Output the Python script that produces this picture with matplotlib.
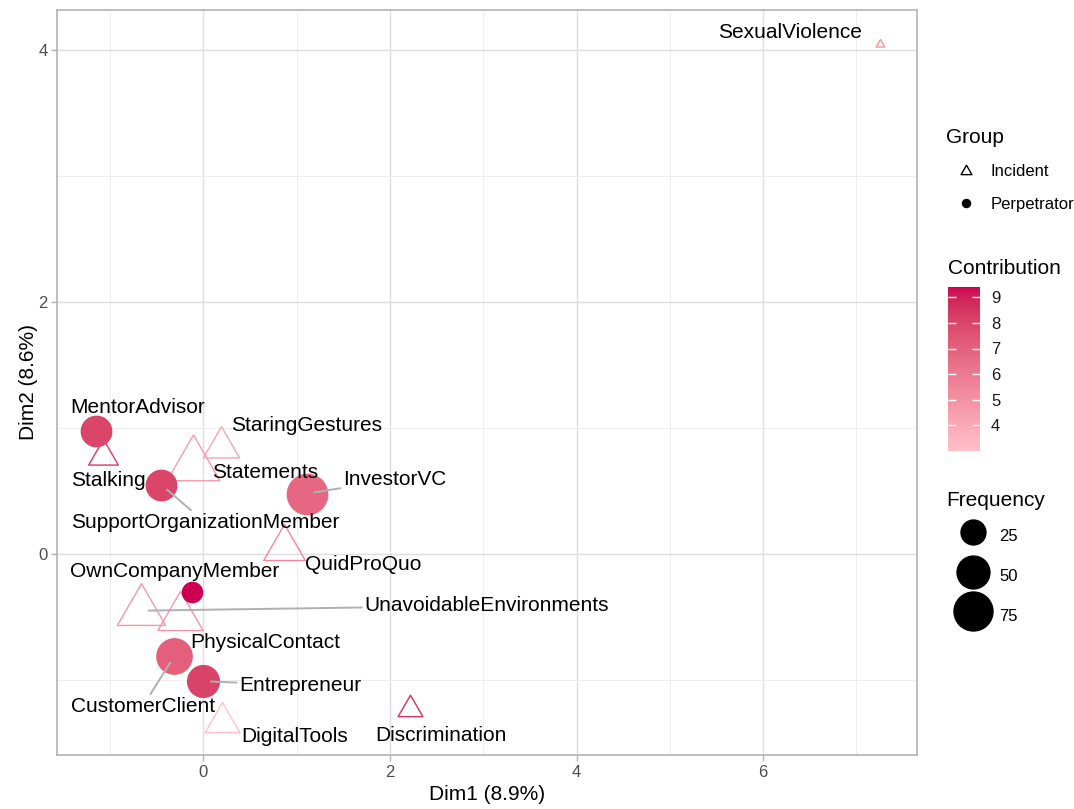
import numpy as np
import matplotlib
matplotlib.use("Agg")
import matplotlib.pyplot as plt
from matplotlib.path import Path
from matplotlib.colors import LinearSegmentedColormap, Normalize
from matplotlib.lines import Line2D

plt.rcParams['font.family'] = ['Liberation Sans', 'DejaVu Sans']

# ---------------- data ----------------
labels = ["SexualViolence", "MentorAdvisor", "Stalking", "Statements", "StaringGestures",
          "SupportOrganizationMember", "InvestorVC", "QuidProQuo", "OwnCompanyMember",
          "UnavoidableEnvironments", "PhysicalContact", "CustomerClient", "Entrepreneur",
          "DigitalTools", "Discrimination"]
groups = ["Incident", "Perpetrator", "Incident", "Incident", "Incident",
          "Perpetrator", "Perpetrator", "Incident", "Perpetrator",
          "Incident", "Incident", "Perpetrator", "Perpetrator",
          "Incident", "Incident"]
dim1 = [7.25, -1.15, -1.08, -0.11, 0.19, -0.45, 1.11, 0.87, -0.12, -0.67, -0.25, -0.31, 0.00, 0.20, 2.22]
dim2 = [4.05, 0.98, 0.78, 0.71, 0.85, 0.55, 0.48, 0.05, -0.30, -0.45, -0.50, -0.81, -1.01, -1.33, -1.23]
contrib = [5.0, 8.0, 8.3, 4.6, 4.2, 8.0, 6.8, 5.4, 9.4, 4.8, 4.8, 7.1, 8.1, 3.0, 8.6]
freq = [1, 46, 18, 76, 30, 46, 88, 43, 17, 61, 52, 65, 51, 27, 11]

x_label = "Dim1 (8.9%)"
y_label = "Dim2 (8.6%)"
x_ticks = [0, 2, 4, 6]
y_ticks = [0, 2, 4]
contrib_ticks = [4, 5, 6, 7, 8, 9]
freq_breaks = [25, 50, 75]

# ---------------- layout (label placement, repel-like) ----------------
label_pos = {
    "SexualViolence": (6.29, 4.14),
    "MentorAdvisor": (-0.70, 1.16),
    "StaringGestures": (1.11, 1.02),
    "Stalking": (-1.02, 0.58),
    "Statements": (0.66, 0.65),
    "InvestorVC": (2.05, 0.59),
    "SupportOrganizationMember": (0.02, 0.25),
    "QuidProQuo": (1.71, -0.08),
    "OwnCompanyMember": (-0.31, -0.14),
    "UnavoidableEnvironments": (3.04, -0.41),
    "PhysicalContact": (0.66, -0.70),
    "Entrepreneur": (1.04, -1.04),
    "CustomerClient": (-0.65, -1.21),
    "DigitalTools": (0.98, -1.45),
    "Discrimination": (2.55, -1.44),
}
with_segment = {"InvestorVC", "SupportOrganizationMember", "UnavoidableEnvironments",
                "CustomerClient", "Entrepreneur"}

# ---------------- colour scale (Lab interpolation like ggplot) ----------------
def _lin(c):
    c = np.asarray(c, float)
    return np.where(c <= 0.04045, c / 12.92, ((c + 0.055) / 1.055) ** 2.4)

def _delin(c):
    c = np.asarray(c, float)
    return np.where(c <= 0.0031308, 12.92 * c, 1.055 * np.power(np.clip(c, 0, None), 1 / 2.4) - 0.055)

M = np.array([[0.4124, 0.3576, 0.1805], [0.2126, 0.7152, 0.0722], [0.0193, 0.1192, 0.9505]])
WHITE = np.array([0.95047, 1.0, 1.08883])

def rgb2lab(rgb):
    xyz = M @ _lin(rgb) / WHITE
    f = np.where(xyz > 0.008856, np.cbrt(xyz), 7.787 * xyz + 16 / 116)
    return np.array([116 * f[1] - 16, 500 * (f[0] - f[1]), 200 * (f[1] - f[2])])

def lab2rgb(lab):
    L, a, b = lab
    fy = (L + 16) / 116
    fx = fy + a / 500
    fz = fy - b / 200
    f = np.array([fx, fy, fz])
    xyz = np.where(f ** 3 > 0.008856, f ** 3, (f - 16 / 116) / 7.787) * WHITE
    rgb = np.linalg.inv(M) @ xyz
    return np.clip(_delin(rgb), 0, 1)

def hex2rgb(h):
    h = h.lstrip('#')
    return np.array([int(h[i:i + 2], 16) / 255 for i in (0, 2, 4)])

low, high = rgb2lab(hex2rgb("#FFC0CB")), rgb2lab(hex2rgb("#CC0052"))
cols = [lab2rgb(low + (high - low) * t) for t in np.linspace(0, 1, 64)]
cmap = LinearSegmentedColormap.from_list("contrib", cols, N=256)
norm = Normalize(vmin=min(contrib), vmax=max(contrib))

# ---------------- size scale ----------------
fmin, fmax = min(freq), max(freq)
dmin_px, dmax_px = 6.4, 41.7

def diam_px(f):
    return dmin_px + (dmax_px - dmin_px) * np.sqrt((np.asarray(f, float) - fmin) / (fmax - fmin))

PX2PT = 0.72
tri = Path([(0, 1), (-0.8660254, -0.5), (0.8660254, -0.5), (0, 1)],
           [Path.MOVETO, Path.LINETO, Path.LINETO, Path.CLOSEPOLY])

# ---------------- figure ----------------
W, H = 1074, 809
fig = plt.figure(figsize=(W / 100, H / 100), dpi=100)
L, R, T, B = 57.3, 917, 10, 755
ax = fig.add_axes([L / W, (H - B) / H, (R - L) / W, (B - T) / H])
ax.set_xlim((L - 203.3) / 93.3, (R - 203.3) / 93.3)
ax.set_ylim((554 - B) / 126, (554 - T) / 126)

ax.set_xticks(x_ticks)
ax.set_yticks(y_ticks)
ax.set_xticks([-1, 1, 3, 5, 7], minor=True)
ax.set_yticks([-1, 1, 3], minor=True)
ax.grid(which='major', color='#DEDEDE', lw=1.0)
ax.grid(which='minor', color='#EBEBEB', lw=0.6)
ax.set_axisbelow(True)
for s in ax.spines.values():
    s.set_color('#B3B3B3')
    s.set_linewidth(1.2)
ax.tick_params(which='major', length=4, width=1, color='#B3B3B3', labelsize=12,
               labelcolor='#4D4D4D', pad=3)
ax.tick_params(which='minor', length=0)
ax.set_xlabel(x_label, fontsize=15, labelpad=4)
ax.set_ylabel(y_label, fontsize=15, labelpad=0)

for i, lab in enumerate(labels):
    c = cmap(norm(contrib[i]))
    d = diam_px(freq[i])
    if groups[i] == "Incident":
        ms = 1.35 * d / 0.8660254 * PX2PT
        ax.plot(dim1[i], dim2[i], marker=tri, linestyle='none', markersize=ms,
                markerfacecolor='none', markeredgecolor=c, markeredgewidth=1.0, zorder=3)
    else:
        ax.plot(dim1[i], dim2[i], marker='o', linestyle='none', markersize=d * PX2PT,
                markerfacecolor=c, markeredgecolor=c, markeredgewidth=0, zorder=4)

for i, lab in enumerate(labels):
    lx, ly = label_pos[lab]
    if lab in with_segment:
        ax.annotate(lab, xy=(dim1[i], dim2[i]), xytext=(lx, ly), fontsize=15,
                    ha='center', va='center', color='black', zorder=6,
                    arrowprops=dict(arrowstyle='-', color='#B0B0B0', lw=1.4,
                                    shrinkA=0, shrinkB=5.5))
    else:
        ax.text(lx, ly, lab, fontsize=15, ha='center', va='center', color='black', zorder=6)

# ---------------- legends ----------------
h_inc = Line2D([], [], marker=tri, linestyle='none', markersize=9.0, markerfacecolor='none',
               markeredgecolor='black', markeredgewidth=1.0)
h_per = Line2D([], [], marker='o', linestyle='none', markersize=5.8, color='black')
leg1 = fig.legend([h_inc, h_per], ["Incident", "Perpetrator"], title="Group",
                  loc='upper left', bbox_to_anchor=(946 / W, 1 - 128 / H), frameon=False,
                  fontsize=12, title_fontsize=15, alignment='left', handlelength=2.4,
                  handletextpad=0.25, labelspacing=1.05, borderpad=0, borderaxespad=0)

size_handles = [Line2D([], [], marker='o', linestyle='none', markersize=float(diam_px(b)) * PX2PT,
                       color='black') for b in freq_breaks]
leg2 = fig.legend(size_handles, [str(b) for b in freq_breaks], title="Frequency",
                  loc='upper left', bbox_to_anchor=(946 / W, 1 - 491 / H), frameon=False,
                  fontsize=12, title_fontsize=15, alignment='left', handlelength=3.2,
                  handleheight=2.2, handletextpad=0.0, labelspacing=0.72, borderpad=0,
                  borderaxespad=0)

cax = fig.add_axes([948 / W, (H - 451) / H, 32 / W, 164 / H])
sm = plt.cm.ScalarMappable(norm=norm, cmap=cmap)
cb = fig.colorbar(sm, cax=cax, ticks=contrib_ticks)
cb.outline.set_visible(False)
cax.tick_params(which='both', direction='in', length=6, width=1.0, color='white',
                left=True, right=True, labelsize=12, labelcolor='#1A1A1A', pad=8)
cax.minorticks_off()
fig.text(948 / W, 1 - 269 / H, "Contribution", fontsize=15, ha='left', va='center')

fig.savefig("out.png", dpi=100)
